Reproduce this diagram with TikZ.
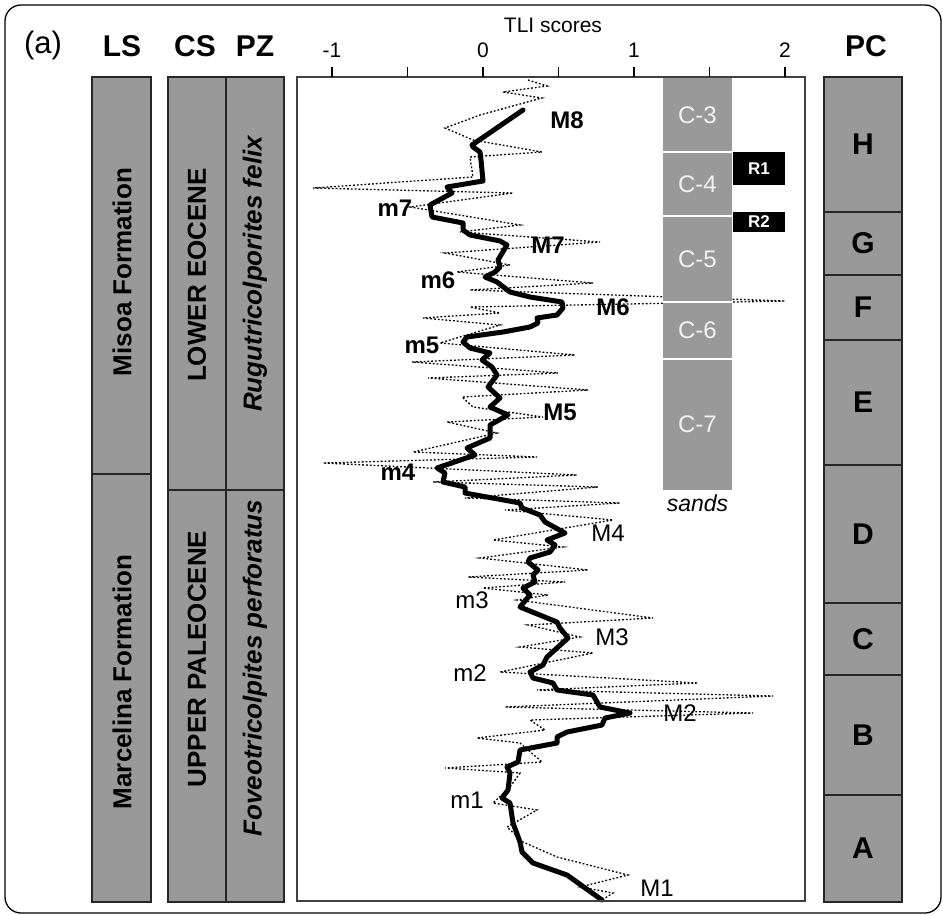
\documentclass[tikz,border=0pt]{standalone}
\usepackage{fontspec}
\setmainfont{Liberation Sans}
\tikzset{
  colbox/.style={draw=black!85,fill=black!40,line width=1.2pt},
  headlbl/.style={font=\fontsize{30}{32}\selectfont\bfseries},
  unitlbl/.style={font=\fontsize{26}{30}\selectfont\bfseries,rotate=90},
  zonelbl/.style={font=\fontsize{30}{32}\selectfont\bfseries},
  sandlbl/.style={font=\fontsize{24}{26}\selectfont,text=black!5},
  peaklbl/.style={font=\fontsize{24}{26}\selectfont},
  boldpeak/.style={font=\fontsize{24}{26}\selectfont\bfseries},
  ticklbl/.style={font=\fontsize{21}{23}\selectfont},
  reglbl/.style={font=\fontsize{17}{19}\selectfont\bfseries,text=white},
  rawline/.style={line width=1.3pt,dash pattern=on 1.8pt off 2pt,black},
  tliline/.style={line width=5pt,line join=round,line cap=round},
}
\begin{document}
\begin{tikzpicture}[x=1pt,y=-1pt]
  \useasboundingbox (0,0) rectangle (943,915);
  \draw[line width=1.3pt,rounded corners=16pt] (5,5) rectangle (941,913);
  % column headers
  \node[font=\fontsize{31}{33}\selectfont] (tag) at (43,45) {(a)};
  \node[headlbl] (hLS) at (122,46) {LS};
  \node[headlbl] (hCS) at (195,46) {CS};
  \node[headlbl] (hPZ) at (255,46) {PZ};
  \node[headlbl] (hPC) at (866,46) {PC};
  % lithostratigraphy, chronostratigraphy, palynozones
  \draw[colbox] (92,77) rectangle (151,474);
  \draw[colbox] (92,474) rectangle (151,902);
  \draw[colbox] (168,77) rectangle (226,490);
  \draw[colbox] (168,490) rectangle (226,902);
  \draw[colbox] (226,77) rectangle (284,490);
  \draw[colbox] (226,490) rectangle (284,902);
  \node[unitlbl] (misoa) at (122,272) {Misoa Formation};
  \node[unitlbl] (marcel) at (122,682) {Marcelina Formation};
  \node[unitlbl] (loweo) at (197,275) {LOWER EOCENE};
  \node[unitlbl] (uppal) at (197,659) {UPPER PALEOCENE};
  \node[unitlbl,font=\fontsize{26}{30}\selectfont\bfseries\itshape] (rugu) at (255,274) {Rugutricolporites felix};
  \node[unitlbl,font=\fontsize{26}{30}\selectfont\bfseries\itshape] (fove) at (255,668) {Foveotricolpites perforatus};
  % palynological cycles
  \foreach \ya/\yb/\z in {77/212/H,212/275/G,275/340/F,340/465/E,465/603/D,603/675/C,675/795/B,795/902/A}{
    \draw[colbox] (824,\ya) rectangle (902,\yb);
    \node[zonelbl] (pc\z) at (863,{(\ya+\yb)/2}) {\z};
  }
  % TLI scores: raw values
  \draw[rawline] plot coordinates {(528,80) (547,86) (503,92) (542,98) (480,115) (445,128)
    (473,140) (542,152) (470,157) (473,177) (313,188) (513,193) (410,207) (520,225)
    (460,232) (600,242) (445,253) (510,265) (457,272) (593,283) (470,290) (785,301)
    (470,307) (500,313) (423,318) (500,325) (440,343) (575,355) (412,362) (558,373)
    (428,378) (588,390) (462,397) (473,407) (543,417) (447,422) (497,433) (413,452)
    (537,457) (323,463) (577,475) (433,482) (598,487) (465,498) (620,503) (505,510)
    (613,520) (493,540) (563,547) (480,558) (588,570) (468,577) (565,582) (483,588)
    (548,595) (517,600) (653,618) (528,625) (580,637) (520,647) (593,653) (500,672)
    (698,683) (537,690) (773,696) (505,707) (753,713) (530,720) (545,730) (477,738)
    (520,743) (542,762) (445,768) (520,773) (510,787) (493,803) (537,810) (507,827)
    (523,842) (557,857) (628,875) (580,887) (613,893) (602,900)};
  % TLI scores: smoothed
  \draw[tliline] plot coordinates {(523,110) (472,145) (473,147) (480,152) (481,160)
    (483,181) (447,187) (452,193) (430,205) (432,217) (463,223) (463,230) (470,235)
    (500,241) (507,245) (498,260) (500,267) (495,272) (485,277) (497,282) (510,292)
    (530,297) (562,302) (563,308) (557,315) (537,318) (538,323) (530,327) (503,332)
    (467,337) (463,342) (470,348) (490,353) (482,360) (492,367) (497,375) (488,387)
    (500,398) (490,407) (508,415) (490,425) (490,438) (467,448) (475,455) (437,468)
    (445,473) (443,482) (465,487) (465,493) (520,503) (522,508) (540,515) (545,522)
    (565,533) (547,540) (555,545) (550,552) (530,558) (528,562) (538,570) (533,575)
    (535,582) (523,588) (530,595) (520,607) (557,622) (560,628) (568,638) (557,648)
    (547,657) (543,665) (530,672) (533,678) (553,683) (557,690) (593,695) (600,707)
    (630,713) (605,718) (602,725) (567,732) (557,737) (557,743) (520,750) (518,762)
    (507,767) (510,773) (508,790) (502,798) (510,803) (513,823) (520,842) (522,852)
    (533,863) (567,875) (602,900)};
  % sand bodies
  \fill[black!40] (663,77) rectangle (732,490);
  \foreach \yy in {152,216,302,359}
    \draw[white,line width=1.5pt] (663,\yy) -- (732,\yy);
  \node[sandlbl] (c3) at (697.5,115) {C-3};
  \node[sandlbl] (c4) at (697.5,184) {C-4};
  \node[sandlbl] (c5) at (697.5,259) {C-5};
  \node[sandlbl] (c6) at (697.5,330) {C-6};
  \node[sandlbl] (c7) at (697.5,424) {C-7};
  \node[font=\fontsize{23}{25}\selectfont\itshape] (sands) at (697.5,503) {sands};
  \fill (733,152) rectangle (785,185);
  \fill (733,212) rectangle (785,232);
  \node[reglbl] (r1) at (759,168.5) {R1};
  \node[reglbl] (r2) at (759,222) {R2};
  % maxima and minima
  \node[boldpeak] (M8) at (567,120) {M8};
  \node[boldpeak] (m7) at (395,208) {m7};
  \node[boldpeak] (M7) at (548,245) {M7};
  \node[boldpeak] (m6) at (438,280) {m6};
  \node[boldpeak] (M6) at (613,307) {M6};
  \node[boldpeak] (m5) at (422,345) {m5};
  \node[boldpeak] (M5) at (560,412) {M5};
  \node[boldpeak] (m4) at (398,472) {m4};
  \node[peaklbl] (M4) at (608,533) {M4};
  \node[peaklbl] (m3) at (472,600) {m3};
  \node[peaklbl] (M3) at (612,637) {M3};
  \node[peaklbl] (m2) at (470,673) {m2};
  \node[peaklbl] (M2) at (680,713) {M2};
  \node[peaklbl] (m1) at (467,800) {m1};
  \node[peaklbl] (M1) at (657,888) {M1};
  % plot frame and axis
  \draw[line width=1.6pt,black!75] (297,77) rectangle (805,901);
  \foreach \v in {-1,-0.5,...,2}
    \draw[line width=1.3pt] ({483+151*\v},77) -- ({483+151*\v},67);
  \node[ticklbl] (tkA) at (332,50) {-1};
  \node[ticklbl] (tkB) at (483,50) {0};
  \node[ticklbl] (tkC) at (634,50) {1};
  \node[ticklbl] (tkD) at (785,50) {2};
  \node[font=\fontsize{21}{23}\selectfont] (tli) at (553,25) {TLI scores};
\end{tikzpicture}
\end{document}
